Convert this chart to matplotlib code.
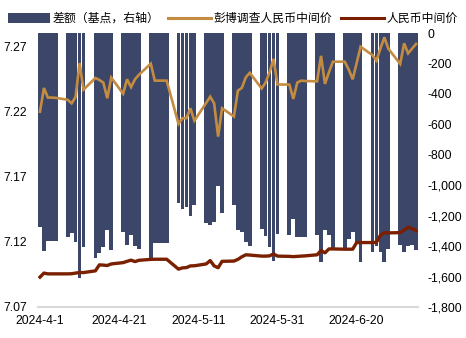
import matplotlib
matplotlib.use("Agg")
import matplotlib.pyplot as plt
import matplotlib.dates as mdates
from matplotlib.patches import Patch
from matplotlib.lines import Line2D
import pandas as pd

plt.rcParams['font.family'] = ['Liberation Sans', 'Noto Sans CJK SC', 'DejaVu Sans']

dates = pd.to_datetime([
    "2024-04-01", "2024-04-02", "2024-04-03", "2024-04-04", "2024-04-05",
    "2024-04-08", "2024-04-09", "2024-04-10", "2024-04-11", "2024-04-12",
    "2024-04-15", "2024-04-16", "2024-04-17", "2024-04-18", "2024-04-19",
    "2024-04-22", "2024-04-23", "2024-04-24", "2024-04-25", "2024-04-26",
    "2024-04-29", "2024-04-30", "2024-05-01", "2024-05-02", "2024-05-03",
    "2024-05-06", "2024-05-07", "2024-05-08", "2024-05-09", "2024-05-10",
    "2024-05-13", "2024-05-14", "2024-05-15", "2024-05-16", "2024-05-17",
    "2024-05-20", "2024-05-21", "2024-05-22", "2024-05-23", "2024-05-24",
    "2024-05-27", "2024-05-28", "2024-05-29", "2024-05-30", "2024-05-31",
    "2024-06-03", "2024-06-04", "2024-06-05", "2024-06-06", "2024-06-07",
    "2024-06-10", "2024-06-11", "2024-06-12", "2024-06-13", "2024-06-14",
    "2024-06-17", "2024-06-18", "2024-06-19", "2024-06-20", "2024-06-21",
    "2024-06-24", "2024-06-25", "2024-06-26", "2024-06-27", "2024-06-28",
    "2024-07-01", "2024-07-02", "2024-07-03", "2024-07-04", "2024-07-05",
])

# 差额（基点）
spread_bp = [
    -1273, -1432, -1365, -1365, -1365,
    -1338, -1316, -1371, -1610, -1406,
    -1476, -1443, -1408, -1294, -1426,
    -1305, -1393, -1327, -1397, -1419,
    -1491, -1378, -1378, -1378, -1378,
    -1119, -1156, -1145, -1200, -1130,
    -1246, -1261, -1240, -1005, -1181,
    -1130, -1294, -1310, -1375, -1397,
    -1290, -1332, -1408, -1496, -1323,
    -1327, -1224, -1338, -1338, -1340,
    -1330, -1502, -1294, -1330, -1426,
    -1420, -1350, -1310, -1380, -1502,
    -1437, -1400, -1437, -1502, -1420,
    -1395, -1437, -1400, -1395, -1426,
]

# 彭博调查人民币中间价
survey = [
    7.2197, 7.2378, 7.2305, 7.2305, 7.2303,
    7.2288, 7.2261, 7.2310, 7.2570, 7.2366,
    7.2455, 7.2440, 7.2420, 7.2300, 7.2458,
    7.2335, 7.2445, 7.2385, 7.2445, 7.2480,
    7.2565, 7.2435, 7.2435, 7.2435, 7.2435,
    7.2103, 7.2147, 7.2147, 7.2223, 7.2128,
    7.2265, 7.2312, 7.2261, 7.2006, 7.2223,
    7.2160, 7.2358, 7.2380, 7.2460, 7.2495,
    7.2375, 7.2420, 7.2500, 7.2601, 7.2405,
    7.2405, 7.2295, 7.2420, 7.2435, 7.2432,
    7.2429, 7.2625, 7.2410, 7.2500, 7.2580,
    7.2580, 7.2520, 7.2445, 7.2570, 7.2695,
    7.2630, 7.2588, 7.2680, 7.2767, 7.2680,
    7.2563, 7.2721, 7.2644, 7.2680, 7.2716,
]

# 人民币中间价
fixing = [
    7.0929, 7.0960, 7.0954, 7.0954, 7.0954,
    7.0954, 7.0955, 7.0960, 7.0964, 7.0964,
    7.0977, 7.1023, 7.1021, 7.1018, 7.1030,
    7.1040, 7.1050, 7.1059, 7.1048, 7.1058,
    7.1065, 7.1066, 7.1066, 7.1066, 7.1066,
    7.0990, 7.1000, 7.1002, 7.1015, 7.1016,
    7.1030, 7.1056, 7.1015, 7.1001, 7.1050,
    7.1052, 7.1065, 7.1085, 7.1100, 7.1098,
    7.1090, 7.1090, 7.1092, 7.1107, 7.1090,
    7.1088, 7.1086, 7.1088, 7.1090, 7.1092,
    7.1100, 7.1133, 7.1115, 7.1145, 7.1145,
    7.1143, 7.1143, 7.1143, 7.1194, 7.1194,
    7.1194, 7.1196, 7.1250, 7.1270, 7.1268,
    7.1270, 7.1290, 7.1312, 7.1300, 7.1286,
]

xtick_dates = pd.to_datetime(["2024-04-01", "2024-04-21", "2024-05-11", "2024-05-31", "2024-06-20"])
xtick_labels = ["2024-4-1", "2024-4-21", "2024-5-11", "2024-5-31", "2024-6-20"]
left_ticks = [7.07, 7.12, 7.17, 7.22, 7.27]
right_ticks = [0, -200, -400, -600, -800, -1000, -1200, -1400, -1600, -1800]

navy = "#3C4668"
gold = "#C48C40"
maroon = "#7A2000"
fs = 8.7

fig = plt.figure(figsize=(4.66, 3.38), dpi=100)
ax_bar = fig.add_axes([38 / 466, 1 - 307 / 338, 380 / 466, 274 / 338])
ax_line = ax_bar.twinx()

x = mdates.date2num(dates)
ax_bar.bar(x, spread_bp, width=0.95, color=navy, linewidth=0, zorder=1)
ax_bar.set_ylim(-1800, 0)
ax_bar.yaxis.tick_right()
ax_bar.set_yticks(right_ticks)
ax_bar.set_yticklabels([f"{v:,}" for v in right_ticks], fontsize=fs, ha="left")
ax_bar.tick_params(axis="y", length=0, pad=7)

ax_line.plot(x, survey, color=gold, linewidth=1.9, solid_joinstyle="miter", zorder=3)
ax_line.plot(x, fixing, color=maroon, linewidth=2.4, zorder=3)
ax_line.set_ylim(7.07, 7.28)
ax_line.yaxis.tick_left()
ax_line.set_yticks(left_ticks)
ax_line.set_yticklabels([f"{v:.2f}" for v in left_ticks], fontsize=fs)
ax_line.tick_params(axis="y", length=0, pad=8)

x0 = mdates.date2num(pd.Timestamp("2024-04-01")) - 0.5
x1 = mdates.date2num(pd.Timestamp("2024-07-05")) + 0.5
ax_bar.set_xlim(x0, x1)
ax_bar.set_xticks(mdates.date2num(xtick_dates))
ax_bar.set_xticklabels(xtick_labels, fontsize=fs)
ax_bar.tick_params(axis="x", length=0, pad=6)

for a in (ax_bar, ax_line):
    for side in ("top", "left", "right", "bottom"):
        a.spines[side].set_visible(False)
ax_line.axhline(7.07, color="#D9D9D9", linewidth=1.5, zorder=2, clip_on=False)

handles = [
    Patch(facecolor=navy, edgecolor="none"),
    Line2D([], [], color=gold, linewidth=2.2),
    Line2D([], [], color=maroon, linewidth=2.2),
]
labels = ["差额（基点，右轴）", "彭博调查人民币中间价", "人民币中间价"]
fig.legend(handles, labels, loc="center", bbox_to_anchor=(0.499, 1 - 19 / 338),
           ncol=3, frameon=False, fontsize=8.55, handlelength=3.6, handleheight=0.85,
           handletextpad=0.2, columnspacing=0.75, borderpad=0, borderaxespad=0)

fig.savefig("out.png", dpi=100)
